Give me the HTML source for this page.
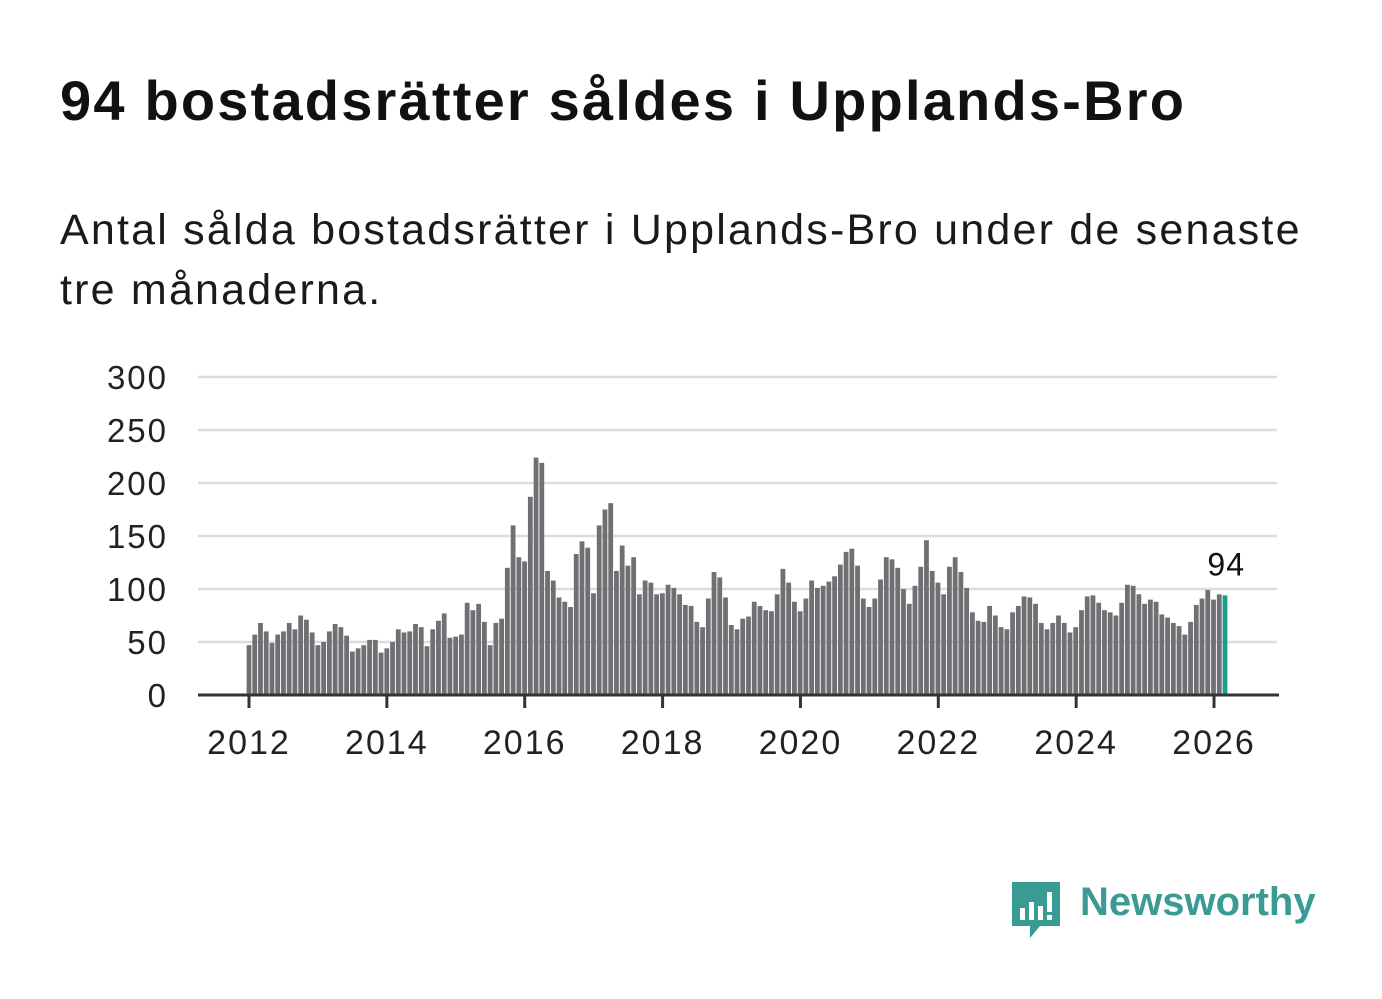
<!DOCTYPE html>
<html><head><meta charset="utf-8"><style>
body{margin:0;background:#fff;width:1382px;height:999px;overflow:hidden;font-family:"Liberation Sans","DejaVu Sans",sans-serif;color:#111}
h1{position:absolute;left:60px;top:68px;margin:0;font-size:56px;font-weight:bold;letter-spacing:2.2px;white-space:nowrap}
p{position:absolute;left:60px;top:200px;margin:0;font-size:43px;line-height:60px;width:1320px;color:#1a1a1a;letter-spacing:2.2px;white-space:nowrap}
</style></head><body>
<h1>94 bostadsrätter såldes i Upplands-Bro</h1>
<p>Antal sålda bostadsrätter i Upplands-Bro under de senaste<br>tre månaderna.</p>
<svg id="chart" width="1382" height="999" style="position:absolute;left:0;top:0"></svg>
<div style="position:absolute;left:1010px;top:878px;">
<svg width="52" height="62"><path d="M2 4h48v44H30l-10 12V48H2z" fill="#3a9b94"/><rect x="10" y="30" width="5" height="12" fill="#fff"/><rect x="19" y="24" width="5" height="18" fill="#fff"/><rect x="28" y="28" width="5" height="14" fill="#fff"/><rect x="37" y="14" width="5" height="20" fill="#fff"/><rect x="37" y="37" width="5" height="5" fill="#fff"/></svg>
<span style="position:absolute;left:70px;top:2px;font-size:40px;font-weight:bold;color:#3a9b94;white-space:nowrap">Newsworthy</span>
</div>
<script>
const values=[47,57,68,60,49,57,60,68,62,75,71,59,47,50,60,67,64,56,41,44,47,52,52,40,44,50,62,59,60,67,64,46,62,70,77,54,55,57,87,80,86,
69,47,68,72,120,160,130,126,187,224,219,117,108,92,88,83,133,145,139,96,160,175,181,117,141,122,130,95,108,106,95,96,104,101,95,85,84,69,64,91,116,111,92,66,62,72,74,88,84,80,79,95,119,106,88,79,91,108,101,103,107,112,123,135,138,122,91,83,91,109,130,128,120,100,86,103,121,146,117,106,95,121,130,116,101,78,70,69,84,75,64,62,78,84,93,92,86,68,62,68,75,68,59,64,80,93,94,87,80,78,75,87,104,103,95,86,90,88,76,73,68,65,57,69,85,91,99,90,95,94];
const yTicks=[0,50,100,150,200,250,300];
const xTicks=[2012,2014,2016,2018,2020,2022,2024,2026];
const svg=document.getElementById('chart');const NS='http://www.w3.org/2000/svg';
const y=v=>695-v*318/300;
const x0=249,x1=1225;
const xi=i=>x0+i*(x1-x0)/(values.length-1);
const xy=yr=>249+(yr-2012)*68.93;
function mk(t,a){const e=document.createElementNS(NS,t);for(const k in a)e.setAttribute(k,a[k]);svg.appendChild(e);return e;}
yTicks.forEach(v=>{
 if(v>0){const g=mk('line',{x1:198,x2:1277,y1:y(v),y2:y(v),stroke:'#dcdcdc','stroke-width':2.5});
 
 }
 const t=mk('text',{x:168,y:y(v)+12,'text-anchor':'end','font-size':33,fill:'#222','letter-spacing':2});
 
 
 t.textContent=v;
});
values.forEach((v,i)=>{
 const last=i===values.length-1;
 const r=mk('rect',{x:xi(i)-2.4,y:y(v),width:4.8,height:695-y(v),fill:last?'#1a9d8f':'#707074'});
 
 
});
const ax=mk('line',{x1:198,x2:1279,y1:695,y2:695,stroke:'#333','stroke-width':3});


xTicks.forEach(yr=>{
 const tk=mk('line',{x1:xy(yr),x2:xy(yr),y1:695,y2:708,stroke:'#333','stroke-width':3});
 
 
 const t=mk('text',{x:xy(yr),y:754,'text-anchor':'middle','font-size':34,fill:'#222','letter-spacing':2});
 
 
 t.textContent=yr;
});
const lv=values[values.length-1];
const lab=mk('text',{x:xi(values.length-1),y:y(lv)-20,'text-anchor':'end','font-size':32,fill:'#111','letter-spacing':1});


lab.setAttribute('dx','20');
lab.textContent=lv;
</script>
</body></html>
